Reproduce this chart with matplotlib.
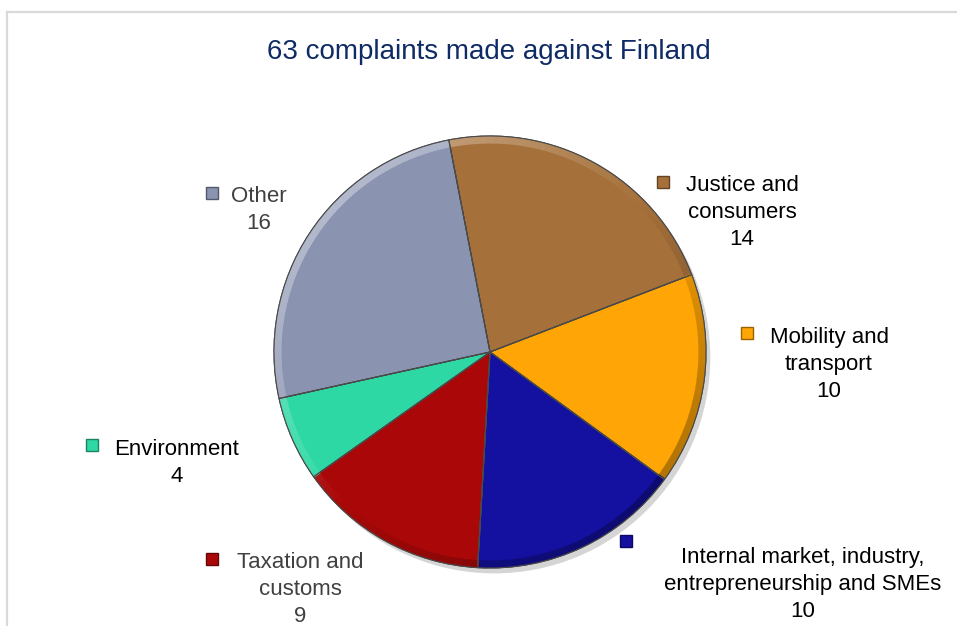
import matplotlib.pyplot as plt
from matplotlib.patches import Wedge, Circle, Rectangle
from matplotlib.lines import Line2D
import matplotlib.colors as mcolors
import numpy as np

plt.rcParams['font.family'] = ['Liberation Sans', 'DejaVu Sans']

# data
categories = ['Justice and\nconsumers', 'Mobility and\ntransport',
              'Internal market, industry,\nentrepreneurship and SMEs',
              'Taxation and\ncustoms', 'Environment', 'Other']
counts = [14, 10, 10, 9, 4, 16]
colors = ['#A5703A', '#FFA505', '#1410A0', '#AA0808', '#2ED8A4', '#8A93B0']
text_colors = ['black', 'black', 'black', '#404040', 'black', '#404040']

# label placement in pixels: text centre x, first line centre y, marker centre
label_pos = [(742, 183), (829, 335), (803, 555), (300, 560), (177, 447), (259, 194)]
marker_pos = [(663, 182), (747, 333), (626, 541), (212, 559), (92, 445), (212, 193)]

W, H = 957, 626
fig = plt.figure(figsize=(W / 100, H / 100), dpi=100)


def fx(x):
    return x / W


def fy(y):
    return 1 - y / H


# chart frame (light grey border)
fig.add_artist(Line2D([fx(7), fx(7)], [fy(12), 0], color='#D9D9D9', lw=1.6))
fig.add_artist(Line2D([fx(7), 1], [fy(12), fy(12)], color='#D9D9D9', lw=1.6))

fig.text(fx(489), fy(52), '63 complaints made against Finland',
         ha='center', va='center', fontsize=20, color='#0F2B66')

# pie
ax = fig.add_axes([fx(274), fy(568), 432 / W, 432 / H])
ax.add_patch(Circle((0.02, -0.025), 1.0, color='#777777', alpha=0.3, zorder=0, lw=0,
                    clip_on=False))
wedges, _ = ax.pie(counts, colors=colors, startangle=101, counterclock=False,
                   radius=1, frame=False,
                   wedgeprops=dict(edgecolor='#4a4a4a', linewidth=0.8))
for w in wedges:
    w.set_zorder(1)
    w.set_clip_on(False)

# bevel-like rim shading
for w, c in zip(wedges, colors):
    base = np.array(mcolors.to_rgb(c))
    t1, t2 = w.theta1, w.theta2
    steps = np.linspace(t1, t2, max(2, int((t2 - t1) / 2) + 1))
    for a, b in zip(steps[:-1], steps[1:]):
        mid = np.radians((a + b) / 2)
        light = np.cos(mid - np.radians(135))
        if light > 0:
            col = base + (1 - base) * 0.35 * light
        else:
            col = base * (1 + 0.3 * light)
        ax.add_patch(Wedge((0, 0), 1.0, a, b + 0.3, width=0.035,
                           color=tuple(col), lw=0, zorder=2, clip_on=False))
    ax.add_patch(Wedge((0, 0), 1.0, t1, t2, fill=False, edgecolor='#4a4a4a',
                       lw=0.8, zorder=3, clip_on=False))

ax.set_xlim(-1, 1)
ax.set_ylim(-1, 1)

# data labels with legend keys
line_gap = 27
for cat, n, col, tcol, (tx, ty), (mx, my) in zip(categories, counts, colors, text_colors,
                                                 label_pos, marker_pos):
    lines = cat.split('\n') + [str(n)]
    for i, line in enumerate(lines):
        fig.text(fx(tx), fy(ty + i * line_gap + 8), line, ha='center', va='baseline',
                 fontsize=16, color=tcol)
    dark = np.array(mcolors.to_rgb(col)) * 0.6
    fig.add_artist(Rectangle((fx(mx - 6), fy(my + 6)), 12 / W, 12 / H,
                             facecolor=col, edgecolor=tuple(dark), lw=1))

fig.savefig('out.png', dpi=100)
